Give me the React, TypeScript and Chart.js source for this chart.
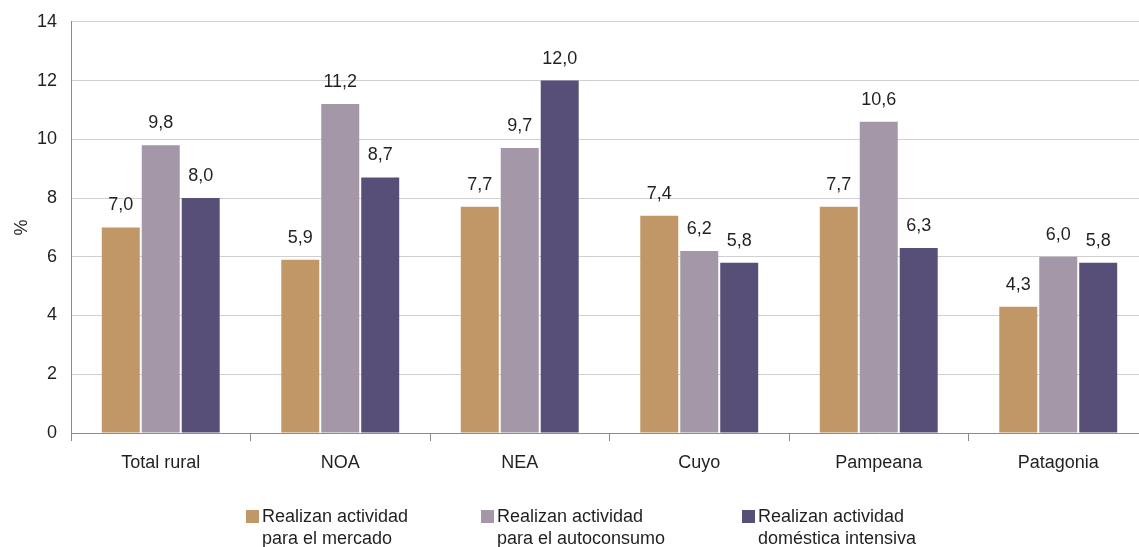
import React, { useEffect, useRef } from "react";
import { Chart, registerables } from "chart.js";

Chart.register(...registerables);

const categories = ["Total rural", "NOA", "NEA", "Cuyo", "Pampeana", "Patagonia"];
const mercado = [7.0, 5.9, 7.7, 7.4, 7.7, 4.3];
const autoconsumo = [9.8, 11.2, 9.7, 6.2, 10.6, 6.0];
const domestica = [8.0, 8.7, 12.0, 5.8, 6.3, 5.8];
const seriesLabels = [
  ["Realizan actividad", "para el mercado"],
  ["Realizan actividad", "para el autoconsumo"],
  ["Realizan actividad", "doméstica intensiva"],
];
const colors = ["#C29767", "#A397A8", "#584F78"];
const yTicks = [0, 2, 4, 6, 8, 10, 12, 14];

const FONT = "'Liberation Sans', Arial, sans-serif";

const labelPlugin = {
  id: "valueLabels",
  afterDatasetsDraw(chart: any) {
    const ctx = chart.ctx;
    ctx.save();
    ctx.font = `18px ${FONT}`;
    ctx.fillStyle = "#231F20";
    ctx.textAlign = "center";
    ctx.textBaseline = "middle";
    chart.data.datasets.forEach((ds: any, i: number) => {
      const meta = chart.getDatasetMeta(i);
      meta.data.forEach((bar: any, j: number) => {
        const v = ds.data[j] as number;
        ctx.fillText(v.toFixed(1).replace(".", ","), bar.x, bar.y - 22);
      });
    });
    ctx.restore();
  },
};

export default function App() {
  const ref = useRef<HTMLCanvasElement | null>(null);
  useEffect(() => {
    document.body.style.margin = "0";
    if (!ref.current) return;
    const chart = new Chart(ref.current, {
      type: "bar",
      data: {
        labels: categories,
        datasets: [mercado, autoconsumo, domestica].map((d, i) => ({
          label: seriesLabels[i].join(" "),
          data: d,
          backgroundColor: colors[i],
          barPercentage: 0.95,
          categoryPercentage: 0.668,
        })),
      },
      options: {
        animation: false,
        responsive: false,
        maintainAspectRatio: false,
        layout: { padding: { top: 18, bottom: 54, left: 0, right: 0 } },
        plugins: {
          legend: { display: false },
          tooltip: { enabled: false },
        },
        scales: {
          x: {
            offset: true,
            grid: {
              offset: true,
              drawOnChartArea: false,
              drawTicks: true,
              tickLength: 8,
              color: "#8C8C8C",
            },
            border: { color: "#8C8C8C", width: 1 },
            ticks: {
              color: "#231F20",
              font: { family: FONT, size: 18 },
              padding: 11,
            },
            afterFit(scale: any) {
              scale.height = 60;
            },
          },
          y: {
            min: 0,
            max: 14,
            afterBuildTicks(scale: any) {
              scale.ticks = yTicks.map((v) => ({ value: v }));
            },
            grid: {
              color: "#D0D0D0",
              drawTicks: false,
            },
            border: { color: "#8C8C8C", width: 1 },
            ticks: {
              color: "#231F20",
              font: { family: FONT, size: 18 },
              padding: 14,
            },
            title: {
              display: true,
              text: "%",
              color: "#231F20",
              font: { family: FONT, size: 18 },
              padding: { top: 11, bottom: 4 },
            },
            afterFit(scale: any) {
              scale.width = 71;
            },
          },
        },
      },
      plugins: [labelPlugin],
    });
    return () => chart.destroy();
  }, []);

  const legendX = [246, 481, 742];
  return (
    <div style={{ position: "fixed", left: 0, top: 0, width: 1139, height: 547, background: "#fff", overflow: "hidden" }}>
      <canvas
        ref={ref}
        width={1148}
        height={550}
        style={{ display: "block", position: "absolute", left: 0, top: -3 }}
      />
      {seriesLabels.map((lines, i) => (
        <div
          key={i}
          style={{
            position: "absolute",
            left: legendX[i],
            top: 505,
            display: "flex",
            alignItems: "flex-start",
            fontFamily: FONT,
            fontSize: 18,
            lineHeight: "22px",
            color: "#231F20",
            whiteSpace: "nowrap",
          }}
        >
          <div style={{ width: 13, height: 13, background: colors[i], marginTop: 5, marginRight: 3, flexShrink: 0 }} />
          <div>
            {lines.map((l, k) => (
              <div key={k}>{l}</div>
            ))}
          </div>
        </div>
      ))}
    </div>
  );
}
